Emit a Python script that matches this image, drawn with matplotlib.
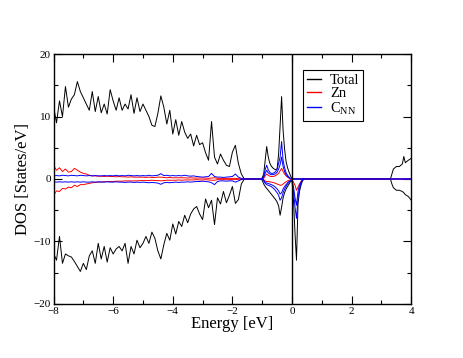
import numpy as np
import matplotlib
matplotlib.use("Agg")
import matplotlib.pyplot as plt
from matplotlib.ticker import MultipleLocator

plt.rcParams["font.family"] = ["Liberation Serif", "DejaVu Serif"]

# valence band region
e_val = [-8.0, -7.9, -7.8, -7.7, -7.6, -7.5, -7.4, -7.3, -7.2, -7.1,
         -7.0, -6.9, -6.8, -6.7, -6.6, -6.5, -6.4, -6.3, -6.2, -6.1,
         -6.0, -5.9, -5.8, -5.7, -5.6, -5.5, -5.4, -5.3, -5.2, -5.1,
         -5.0, -4.9, -4.8, -4.7, -4.6, -4.5, -4.4, -4.3, -4.2, -4.1,
         -4.0, -3.9, -3.8, -3.7, -3.6, -3.5, -3.4, -3.3, -3.2, -3.1,
         -3.0, -2.9, -2.8, -2.7, -2.6, -2.5, -2.4, -2.3, -2.2, -2.1,
         -2.0, -1.9, -1.8, -1.7, -1.6]
tot_up_val = [11.6, 9.0, 12.5, 10.0, 14.8, 11.5, 12.8, 13.5, 15.6, 14.0,
              13.0, 12.0, 11.0, 14.0, 10.8, 13.2, 10.6, 12.0, 10.4, 14.3,
              12.5, 11.0, 13.0, 11.0, 12.0, 11.2, 13.5, 10.5, 13.0, 10.8,
              12.0, 11.0, 10.0, 8.6, 8.4, 10.5, 13.3, 11.5, 8.8, 11.0,
              7.2, 9.5, 7.0, 9.2, 7.5, 6.5, 7.2, 5.3, 7.0, 5.5,
              5.8, 4.2, 3.0, 9.2, 3.5, 2.4, 4.0, 3.0, 2.2, 2.0,
              4.3, 5.4, 2.5, 0.8, 0.0]
tot_dn_val = [-11.9, -13.0, -9.2, -13.5, -12.0, -12.3, -12.5, -13.2, -14.0, -14.8,
              -13.5, -14.5, -12.3, -11.5, -13.5, -10.3, -12.8, -10.8, -13.3, -11.0,
              -12.0, -11.2, -10.8, -11.5, -10.3, -13.5, -10.8, -12.0, -9.8, -11.0,
              -10.3, -9.2, -10.3, -8.5, -9.5, -11.5, -12.8, -10.5, -8.7, -9.8,
              -7.2, -8.8, -6.8, -7.6, -5.8, -7.0, -5.6, -4.8, -4.4, -5.6,
              -6.5, -3.2, -4.6, -3.4, -7.3, -3.0, -4.0, -2.0, -3.8, -2.6,
              -1.2, -3.9, -3.3, -0.8, 0.0]
zn_up_val = [2.2, 1.4, 1.8, 1.2, 1.6, 1.1, 1.2, 1.7, 1.4, 1.1,
             0.9, 0.8, 0.6, 0.5, 0.5, 0.45, 0.45, 0.4, 0.45, 0.4,
             0.4, 0.35, 0.4, 0.35, 0.35, 0.3, 0.35, 0.3, 0.3, 0.3,
             0.3, 0.25, 0.3, 0.25, 0.25, 0.3, 0.3, 0.25, 0.2, 0.25,
             0.2, 0.2, 0.2, 0.2, 0.2, 0.15, 0.2, 0.15, 0.15, 0.15,
             0.15, 0.15, 0.1, 0.15, 0.2, 0.1, 0.1, 0.1, 0.1, 0.1,
             0.1, 0.1, 0.05, 0.05, 0.0]
zn_dn_val = [-2.6, -1.9, -2.0, -1.5, -1.6, -1.3, -1.4, -1.0, -1.2, -0.9,
             -0.9, -0.8, -0.7, -0.6, -0.55, -0.5, -0.45, -0.45, -0.4, -0.4,
             -0.4, -0.35, -0.35, -0.35, -0.3, -0.3, -0.3, -0.3, -0.3, -0.25,
             -0.25, -0.25, -0.25, -0.2, -0.25, -0.25, -0.3, -0.25, -0.2, -0.2,
             -0.2, -0.2, -0.15, -0.2, -0.15, -0.15, -0.15, -0.15, -0.1, -0.15,
             -0.15, -0.1, -0.15, -0.2, -0.2, -0.1, -0.1, -0.1, -0.1, -0.1,
             -0.1, -0.1, -0.05, -0.05, 0.0]
cnn_up_val = [0.5, 0.55, 0.5, 0.6, 0.55, 0.5, 0.6, 0.55, 0.5, 0.6,
              0.55, 0.5, 0.55, 0.5, 0.55, 0.5, 0.5, 0.55, 0.5, 0.55,
              0.5, 0.6, 0.5, 0.55, 0.5, 0.6, 0.55, 0.5, 0.55, 0.5,
              0.55, 0.5, 0.6, 0.5, 0.55, 0.6, 0.85, 0.55, 0.6, 0.5,
              0.55, 0.5, 0.55, 0.5, 0.6, 0.5, 0.45, 0.5, 0.4, 0.35,
              0.3, 0.35, 0.4, 0.9, 0.4, 0.3, 0.3, 0.25, 0.3, 0.35,
              0.4, 0.8, 0.3, 0.1, 0.0]
cnn_dn_val = [-0.45, -0.5, -0.45, -0.5, -0.45, -0.5, -0.45, -0.5, -0.45, -0.5,
              -0.45, -0.5, -0.5, -0.45, -0.5, -0.45, -0.5, -0.5, -0.45, -0.5,
              -0.5, -0.45, -0.5, -0.5, -0.55, -0.5, -0.5, -0.55, -0.5, -0.55,
              -0.5, -0.55, -0.6, -0.55, -0.6, -0.65, -0.85, -0.6, -0.55, -0.6,
              -0.55, -0.5, -0.55, -0.5, -0.5, -0.45, -0.5, -0.45, -0.4, -0.4,
              -0.35, -0.4, -0.45, -0.6, -0.9, -0.4, -0.3, -0.3, -0.35, -0.3,
              -0.3, -0.5, -0.3, -0.1, 0.0]

# states around the Fermi level
e_mid = [-1.05, -1.0, -0.95, -0.9, -0.85, -0.8, -0.75, -0.7, -0.65, -0.6,
         -0.55, -0.5, -0.45, -0.4, -0.35, -0.3, -0.25, -0.2, -0.15, -0.1,
         -0.05, 0.0, 0.05, 0.1, 0.15, 0.2, 0.25, 0.3, 0.35, 0.4]
tot_up_mid = [0, 0.2, 0.8, 3.0, 5.2, 3.6, 2.6, 2.1, 1.8, 1.6,
              1.5, 1.6, 4.0, 8.5, 13.2, 7.8, 4.8, 2.8, 1.8, 1.1,
              0.5, 0, 0, 0, 0, 0, 0, 0, 0, 0]
tot_dn_mid = [0, -0.2, -0.8, -1.2, -1.5, -1.8, -2.1, -2.4, -2.7, -3.0,
              -3.3, -3.7, -4.3, -5.8, -4.5, -3.0, -2.2, -1.6, -1.2, -0.8,
              -0.4, -0.3, -3.5, -8.7, -13.0, -4.0, -2.0, -1.0, -0.3, 0]
zn_up_mid = [0, 0, 0.1, 0.5, 0.8, 0.6, 0.45, 0.4, 0.4, 0.45,
             0.55, 0.7, 0.9, 1.3, 1.7, 1.2, 0.8, 0.5, 0.3, 0.15,
             0.05, 0, 0, 0, 0, 0, 0, 0, 0, 0]
zn_dn_mid = [0, 0, -0.1, -0.3, -0.4, -0.4, -0.45, -0.5, -0.55, -0.6,
             -0.7, -0.8, -0.9, -1.0, -1.0, -0.8, -0.6, -0.45, -0.3, -0.2,
             -0.1, -0.2, -0.5, -1.0, -1.8, -1.3, -0.8, -0.4, -0.1, 0]
cnn_up_mid = [0, 0, 0.5, 1.5, 2.2, 1.5, 1.1, 0.9, 0.9, 1.0,
              1.2, 1.6, 2.5, 3.5, 6.0, 3.0, 1.8, 1.0, 0.6, 0.3,
              0.1, 0, 0, 0, 0, 0, 0, 0, 0, 0]
cnn_dn_mid = [0, 0, -0.3, -0.7, -0.9, -1.0, -1.1, -1.2, -1.4, -1.6,
              -1.9, -2.2, -2.6, -3.4, -3.0, -2.2, -1.6, -1.2, -0.8, -0.5,
              -0.3, -0.3, -2.0, -4.5, -6.3, -3.0, -1.5, -0.7, -0.2, 0]
c2_up_mid = [0, 0, 0.3, 0.9, 1.4, 1.0, 0.8, 0.7, 0.7, 0.75,
             0.85, 1.1, 1.6, 2.3, 3.5, 2.0, 1.2, 0.7, 0.4, 0.2,
             0.05, 0, 0, 0, 0, 0, 0, 0, 0, 0]
c2_dn_mid = [0, 0, -0.2, -0.5, -0.65, -0.7, -0.8, -0.9, -1.0, -1.15,
             -1.35, -1.6, -1.9, -2.4, -2.2, -1.6, -1.2, -0.9, -0.6, -0.4,
             -0.2, -0.2, -1.3, -3.0, -4.2, -2.0, -1.0, -0.5, -0.1, 0]

# conduction band edge
e_cond = [3.3, 3.35, 3.4, 3.5, 3.6, 3.7, 3.75, 3.8, 3.9, 4.0]
tot_up_cond = [0, 0.8, 1.6, 2.0, 2.0, 2.4, 3.6, 2.6, 3.0, 3.3]
tot_dn_cond = [0, -0.8, -1.4, -1.8, -1.8, -2.0, -2.2, -2.5, -2.8, -3.4]
zero_cond = [0, 0, 0, 0, 0, 0, 0, 0, 0, 0]

energy = np.array(e_val + e_mid + e_cond)
total_up = np.array(tot_up_val + tot_up_mid + tot_up_cond)
total_dn = np.array(tot_dn_val + tot_dn_mid + tot_dn_cond)
zn_up = np.array(zn_up_val + zn_up_mid + zero_cond)
zn_dn = np.array(zn_dn_val + zn_dn_mid + zero_cond)
cnn_up = np.array(cnn_up_val + cnn_up_mid + zero_cond)
cnn_dn = np.array(cnn_dn_val + cnn_dn_mid + zero_cond)

fig = plt.figure(figsize=(4.63, 3.58), dpi=100)
ax = fig.add_axes([0.1156, 0.151, 0.7727, 0.698])

lw = 0.7
ax.plot(energy, total_up, color="black", lw=lw, label="Total")
ax.plot(energy, total_dn, color="black", lw=lw)
ax.plot(energy, zn_up, color="red", lw=lw, label="Zn")
ax.plot(energy, zn_dn, color="red", lw=lw)
ax.plot(energy, cnn_up, color="blue", lw=lw, label="C$_\\mathregular{NN}$")
ax.plot(energy, cnn_dn, color="blue", lw=lw)
ax.plot(e_mid, c2_up_mid, color="blue", lw=lw)
ax.plot(e_mid, c2_dn_mid, color="blue", lw=lw)
ax.axvline(0, color="black", lw=1.0)

ax.set_xlim(-8, 4)
ax.set_ylim(-20, 20)
ax.xaxis.set_major_locator(MultipleLocator(2))
ax.xaxis.set_minor_locator(MultipleLocator(1))
ax.yaxis.set_major_locator(MultipleLocator(10))
ax.yaxis.set_minor_locator(MultipleLocator(5))
ax.tick_params(which="both", direction="in", top=True, right=True,
               labelsize=8, pad=2, width=0.8)
ax.tick_params(which="major", length=6)
ax.tick_params(which="minor", length=3)
for s in ax.spines.values():
    s.set_linewidth(1.0)

ax.set_xlabel("Energy [eV]", fontsize=12, labelpad=0)
ax.set_ylabel("DOS [States/eV]", fontsize=12, labelpad=2)

leg = ax.legend(loc="upper left", bbox_to_anchor=(0.697, 0.935), fontsize=10.5,
                handlelength=1.0, handletextpad=0.6, labelspacing=0.0,
                borderpad=0.25, borderaxespad=0, fancybox=False,
                framealpha=1, edgecolor="black")
leg.get_frame().set_linewidth(0.8)
for h in leg.get_lines():
    h.set_linewidth(1.0)

fig.savefig("out.png", dpi=100)
